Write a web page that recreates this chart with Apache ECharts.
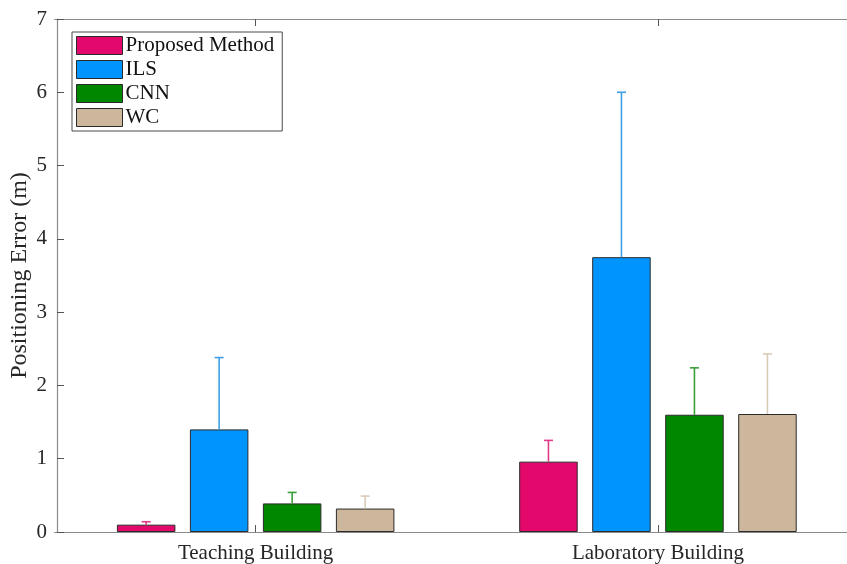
<!DOCTYPE html>
<html>
<head>
<meta charset="utf-8">
<script src="https://cdn.jsdelivr.net/npm/echarts@6/dist/echarts.min.js"></script>
<style>
  html, body { margin: 0; padding: 0; background: #fff; }
  #chart { width: 847px; height: 564px; }
</style>
</head>
<body>
<div id="chart"></div>
<script>
// Mean positioning error (m) per building, with upper error (std) per method
const categories = ['Teaching Building', 'Laboratory Building'];
const methods = ['Proposed Method', 'ILS', 'CNN', 'WC'];

const proposedMean = [0.10, 0.96];
const ilsMean      = [1.40, 3.75];
const cnnMean      = [0.39, 1.60];
const wcMean       = [0.32, 1.61];

const proposedErr = [0.04, 0.29];
const ilsErr      = [0.98, 2.25];
const cnnErr      = [0.15, 0.64];
const wcErr       = [0.17, 0.82];

const yTicks = [0, 1, 2, 3, 4, 5, 6, 7];

const means = [proposedMean, ilsMean, cnnMean, wcMean];
const errs = [proposedErr, ilsErr, cnnErr, wcErr];
const barColors = ['#E2086C', '#0094FE', '#008700', '#CDB79C'];
const errColors = ['#E23A88', '#3DA0E6', '#3A9E3A', '#D8CBB6'];

const FONT = '"Liberation Serif", "Times New Roman", serif';
const BAR_W = 58.5;
const BAR_GAP = 14.5;

const series = [];
methods.forEach((name, i) => {
  series.push({
    name: name,
    type: 'bar',
    data: means[i],
    barWidth: BAR_W,
    barGap: (BAR_GAP / BAR_W * 100).toFixed(2) + '%',
    itemStyle: { color: barColors[i], borderColor: '#2b2b2b', borderWidth: 1 },
    emphasis: { disabled: true },
    z: 2
  });
});

// Upper error bars drawn on top of each bar
methods.forEach((name, i) => {
  series.push({
    name: name + ' error',
    type: 'custom',
    data: means[i].map((m, k) => [k, m, m + errs[i][k]]),
    encode: { x: 0, y: [1, 2] },
    z: 3,
    silent: true,
    renderItem: function (params, api) {
      const base = api.coord([api.value(0), api.value(1)]);
      const top = api.coord([api.value(0), api.value(2)]);
      const x = base[0] + (i - 1.5) * (BAR_W + BAR_GAP);
      const cap = 4.5;
      const style = { stroke: errColors[i], lineWidth: 1.6, fill: null };
      return {
        type: 'group',
        children: [
          { type: 'line', shape: { x1: x, y1: base[1], x2: x, y2: top[1] }, style: style },
          { type: 'line', shape: { x1: x - cap, y1: top[1], x2: x + cap, y2: top[1] }, style: style }
        ]
      };
    }
  });
});

const chart = echarts.init(document.getElementById('chart'), null, { renderer: 'canvas' });
chart.setOption({
  animation: false,
  backgroundColor: '#ffffff',
  // the plot box runs a little past the right edge of the canvas
  grid: { left: 54.5, top: 19, width: 804.6, bottom: 32, containLabel: false, outerBoundsMode: 'none' },
  legend: {
    data: methods,
    orient: 'vertical',
    left: 72,
    top: 32,
    padding: [3, 8, 3, 4],
    itemWidth: 46,
    itemHeight: 18,
    itemGap: 3,
    icon: 'rect',
    borderColor: '#4a4a4a',
    borderWidth: 1,
    backgroundColor: '#fff',
    itemStyle: { borderColor: '#2b2b2b', borderWidth: 1 },
    textStyle: { fontFamily: FONT, fontSize: 21, color: '#111', padding: [0, 0, 0, -2] },
    selectedMode: false
  },
  xAxis: [
    {
      type: 'category',
      data: categories,
      position: 'bottom',
      axisLine: { lineStyle: { color: '#8a8a8a', width: 1.2 } },
      axisTick: { show: true, inside: true, alignWithLabel: true, length: 7, lineStyle: { color: '#555' } },
      axisLabel: { fontFamily: FONT, fontSize: 21, color: '#262626', margin: 11 },
      splitLine: { show: false }
    },
    {
      type: 'category',
      data: categories,
      position: 'top',
      axisLine: { show: true, lineStyle: { color: '#8a8a8a', width: 1.2 } },
      axisTick: { show: true, inside: true, alignWithLabel: true, length: 7, lineStyle: { color: '#555' } },
      axisLabel: { show: false },
      splitLine: { show: false }
    }
  ],
  yAxis: {
    type: 'value',
    min: yTicks[0],
    max: yTicks[yTicks.length - 1],
    interval: 1,
    offset: -2.5,
    name: 'Positioning Error (m)',
    nameLocation: 'middle',
    nameGap: 25,
    nameMoveOverlap: false,
    nameTextStyle: { fontFamily: FONT, fontSize: 24, color: '#262626' },
    axisLine: { show: true, lineStyle: { color: '#8a8a8a', width: 1.2 } },
    axisTick: { show: true, inside: true, length: 7, lineStyle: { color: '#555' } },
    axisLabel: { fontFamily: FONT, fontSize: 21, color: '#262626', margin: 10 },
    splitLine: { show: false }
  },
  series: series
});
</script>
</body>
</html>
